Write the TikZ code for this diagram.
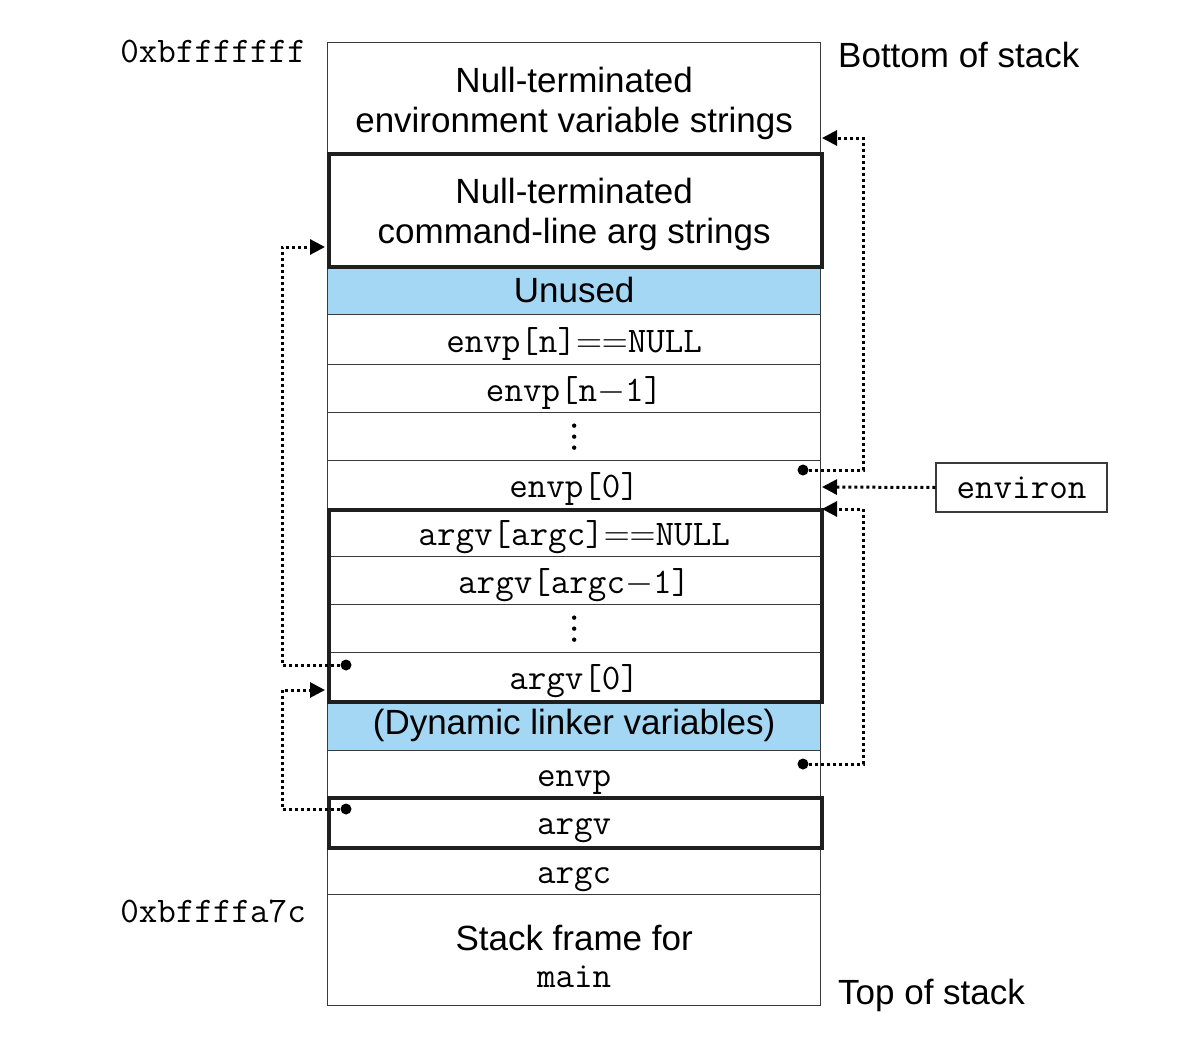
\RequirePackage{fix-cm}
\documentclass[tikz,border=0pt]{standalone}
\usepackage[no-math]{fontspec}
\setmainfont{Liberation Sans}
\usetikzlibrary{arrows.meta,calc}
\definecolor{unusedblue}{HTML}{A3D7F3}
\definecolor{linegray}{HTML}{3A3A3A}
\begin{document}
\begin{tikzpicture}[x=1pt,y=-1pt,
  cell/.style={draw=linegray, line width=1.3pt, minimum width=493pt, inner sep=0pt, anchor=north west},
  heavybox/.style={draw=black!88, line width=3.6pt, minimum width=493pt, inner sep=0pt, anchor=north west},
  sanstext/.style={font=\fontsize{35}{40}\selectfont, align=center},
  monotext/.style={font=\fontsize{36}{40}\selectfont\ttfamily, text height=30pt, text depth=4pt},
  sidemono/.style={font=\fontsize{36}{40}\selectfont\ttfamily},
  ptr/.style={line width=3pt, dash pattern=on 3pt off 3pt, -{Triangle[length=15pt,width=15pt]}},
  vdot/.style={fill=black}
]
\useasboundingbox (0,0) rectangle (1200,1057);

% cells
\node[cell, minimum height=110pt, sanstext] (env) at (327,42) {\rule{0pt}{36pt}Null-terminated\\environment variable strings};
\node[cell, minimum height=113pt, sanstext] (cmd) at (327,152) {\rule{0pt}{36pt}Null-terminated\\command-line arg strings};
\node[cell, fill=unusedblue, minimum height=49pt, sanstext] (unused) at (327,265) {Unused};
\node[cell, minimum height=50pt, monotext] (envpn) at (327,314) {envp[n]$==$NULL};
\node[cell, minimum height=48pt, monotext] (envpn1) at (327,364) {envp[n$-$1]};
\node[cell, minimum height=48pt] (edots) at (327,412) {};
\node[cell, minimum height=48pt, monotext] (envp0) at (327,460) {envp[0]};
\node[cell, minimum height=48pt, monotext] (argvnull) at (327,508) {argv[argc]$==$NULL};
\node[cell, minimum height=48pt, monotext] (argvm1) at (327,556) {argv[argc$-$1]};
\node[cell, minimum height=48pt] (adots) at (327,604) {};
\node[cell, minimum height=48pt, monotext] (argv0) at (327,652) {argv[0]};
\node[cell, fill=unusedblue, minimum height=50pt, sanstext] (dyn) at (327,700) {(Dynamic linker variables)};
\node[cell, minimum height=46pt, monotext] (envp) at (327,750) {envp};
\node[cell, minimum height=50pt, monotext] (argv) at (327,796) {argv};
\node[cell, minimum height=48pt, monotext] (argc) at (327,846) {argc};
\node[cell, minimum height=111pt, sanstext] (frame) at (327,894) {\rule{0pt}{38pt}Stack frame for\\[-3pt]{\ttfamily\fontsize{36}{36}\selectfont main}};

% vertical ellipses
\foreach \dy in {-11,0,11} {
  \fill[vdot] ($(edots.center)+(0,\dy)$) circle (2.2pt);
  \fill[vdot] ($(adots.center)+(0,\dy)$) circle (2.2pt);
}

% heavy outlines
\node[heavybox, minimum height=113pt] (cmdbox) at (327,152) {};
\node[heavybox, minimum height=192pt] (argblock) at (327,508) {};
\node[heavybox, minimum height=50pt] (argvbox) at (327,796) {};

% side labels
\node[sidemono, anchor=base east, inner sep=0pt] (addrtop) at (306,63) {0xbfffffff};
\node[sidemono, anchor=base east, inner sep=0pt] (addrbot) at (306,922) {0xbffffa7c};
\node[sanstext, anchor=base west, inner sep=0pt] (bottom) at (838,67) {Bottom of stack};
\node[sanstext, anchor=base west, inner sep=0pt] (topst) at (838,1004) {Top of stack};
\node[draw=linegray, line width=1.3pt, minimum width=171pt, minimum height=49pt, inner sep=0pt, sidemono] (environ) at (1021.5,487.5) {environ};

% pointer coordinates
\coordinate (d1) at (803,470);
\coordinate (t1) at (822,138);
\coordinate (t2) at (822,487);
\coordinate (d3) at (803,764);
\coordinate (t3) at (822,509);
\coordinate (d4) at (346,665);
\coordinate (t4) at (325,247);
\coordinate (d5) at (346,809);
\coordinate (t5) at (325,690);

\draw[ptr] (d1) -- (863,470) |- (t1);
\draw[ptr] (environ.west) -- (t2);
\draw[ptr] (d3) -- (863,764) |- (t3);
\draw[ptr] (d4) -- (282,665) |- (t4);
\draw[ptr] (d5) -- (282,809) |- (t5);
\foreach \d in {d1,d3,d4,d5} \fill (\d) circle (5.5pt);
\end{tikzpicture}
\end{document}
